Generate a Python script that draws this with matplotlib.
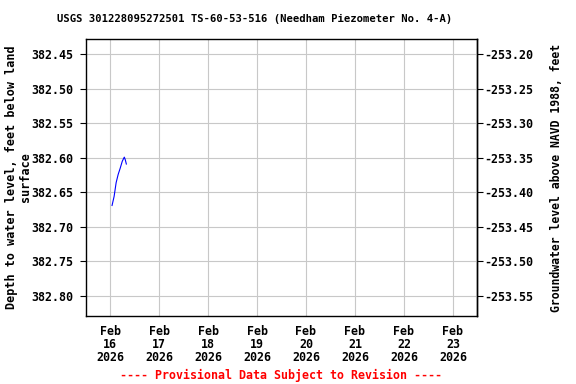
import matplotlib
matplotlib.use("Agg")
import matplotlib.pyplot as plt
import matplotlib.dates as mdates
import numpy as np
from datetime import datetime

times = ["2026-02-16 01:00", "2026-02-16 02:00", "2026-02-16 03:00", "2026-02-16 04:00",
         "2026-02-16 05:00", "2026-02-16 06:00", "2026-02-16 07:00", "2026-02-16 07:30",
         "2026-02-16 08:00"]
depth = [382.669, 382.656, 382.636, 382.624, 382.615, 382.605, 382.599, 382.603, 382.609]
yticks_left = [382.45, 382.50, 382.55, 382.60, 382.65, 382.70, 382.75, 382.80]
xtick_dates = ["2026-02-16", "2026-02-17", "2026-02-18", "2026-02-19",
               "2026-02-20", "2026-02-21", "2026-02-22", "2026-02-23"]
datum_offset = 129.25

font = "DejaVu Sans Mono"
fs = 8.4

x = [datetime.strptime(t, "%Y-%m-%d %H:%M") for t in times]
xt = [datetime.strptime(d, "%Y-%m-%d") for d in xtick_dates]

fig = plt.figure(figsize=(5.76, 3.84), dpi=100)
ax = fig.add_axes([86/576, 1-316/384, (477-86)/576, (316-39)/384])
ax.plot(x, depth, color="#0000ff", lw=0.8)

ax.set_ylim(382.829, 382.428)
ax.set_yticks(yticks_left)
ax.set_yticklabels([f"{v:.2f}" for v in yticks_left], fontfamily=font, fontsize=fs, fontweight="bold")
x0 = mdates.date2num(xt[0]) - 0.49
x1 = mdates.date2num(xt[-1]) + 0.49
ax.set_xlim(x0, x1)
ax.set_xticks(xt)
ax.set_xticklabels([d.strftime("%b\n%d\n%Y") for d in xt], fontfamily=font, fontsize=fs,
                   fontweight="bold", linespacing=1.0)
ax.grid(True, color="#c8c8c8", lw=0.8)
ax.tick_params(axis="x", length=0, pad=6.5)
ax.tick_params(axis="y", direction="out", length=4, pad=5)
for s in ax.spines.values():
    s.set_linewidth(1.0)

sec = ax.secondary_yaxis("right", functions=(lambda d: datum_offset - d, lambda v: datum_offset - v))
rt = [datum_offset - v for v in yticks_left]
sec.set_yticks(rt)
sec.set_yticklabels([f"{v:.2f}" for v in rt], fontfamily=font, fontsize=fs, fontweight="bold")
sec.tick_params(direction="out", length=4, pad=1.5)
sec.spines["right"].set_linewidth(1.0)
sec.set_ylabel("Groundwater level above NAVD 1988, feet", fontfamily=font, fontsize=8.3,
               fontweight="bold", labelpad=12)

ax.set_ylabel("Depth to water level, feet below land\nsurface", fontfamily=font, fontsize=8.5,
              fontweight="bold", labelpad=0, linespacing=1.0)

fig.text(255/576, 1-19/384, "USGS 301228095272501 TS-60-53-516 (Needham Piezometer No. 4-A)",
         ha="center", va="center", fontfamily=font, fontsize=7.6, fontweight="bold")
fig.text(281/576, 1-375/384, "---- Provisional Data Subject to Revision ----",
         ha="center", va="center", fontfamily=font, fontsize=fs, fontweight="bold", color="red")

fig.savefig("out.png", dpi=100)
